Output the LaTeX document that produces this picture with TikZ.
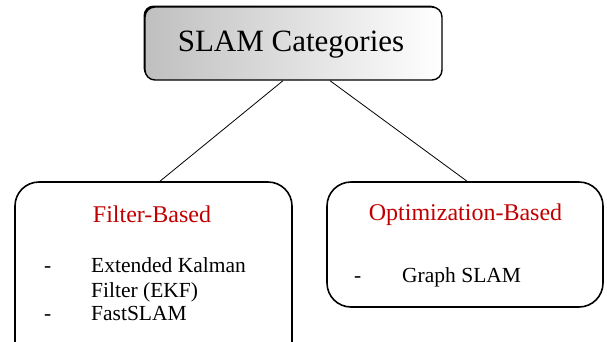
\documentclass[tikz,border=0pt]{standalone}
\usepackage{fontspec}
\setmainfont{Liberation Serif}
\usetikzlibrary{positioning}
\definecolor{catred}{RGB}{192,0,0}

\begin{document}
\begin{tikzpicture}[x=1pt,y=-1pt]
  \tikzstyle{topbox}=[rectangle,rounded corners=10pt,draw=black,line width=1.4pt,
  			  left color=gray!50,right color=white,minimum width=297pt,minimum height=73pt]
  \tikzstyle{catbox}=[rectangle,rounded corners=24pt,draw=black,line width=1.6pt,
  			  minimum width=277pt]
  \tikzstyle{cattitle}=[text=catred,font=\fontsize{24}{28}\selectfont,anchor=base]
  \tikzstyle{item}=[font=\fontsize{21.5}{25}\selectfont,anchor=base west,inner sep=0pt]

  \useasboundingbox (0,0) rectangle (607,341);

  % root
  \fill[black,rounded corners=10pt] (143.5,5.5) rectangle (440,78);
  \node [topbox] (cat) at (293.5,43.5) {};
  \node [font=\fontsize{31}{36}\selectfont] (cattext) at (291,45) {SLAM Categories};

  % left branch
  \node [catbox,minimum height=185pt] (filter) at (153.5,274.5) {};
  \node [cattitle] (filtertitle) at (152,222) {Filter-Based};
  \node [item] (dash1) at (44,272) {-};
  \node [item] (ekf) at (91,272) {Extended Kalman};
  \node [item] (ekf2) at (91,297) {Filter (EKF)};
  \node [item] (dash2) at (44,320) {-};
  \node [item] (fast) at (91,320) {FastSLAM};

  % right branch
  \node [catbox,minimum width=276pt,minimum height=125pt] (opt) at (465,244.5) {};
  \node [cattitle] (opttitle) at (465.5,220) {Optimization-Based};
  \node [item] (dash3) at (354,282) {-};
  \node [item] (graph) at (402,282) {Graph SLAM};

  \draw[line width=0.8pt] ([xshift=-10.5pt]cat.south) -- ([xshift=6.5pt]filter.north);
  \draw[line width=0.8pt] ([xshift=36.5pt]cat.south) -- ([xshift=2pt]opt.north);
\end{tikzpicture}
\end{document}
